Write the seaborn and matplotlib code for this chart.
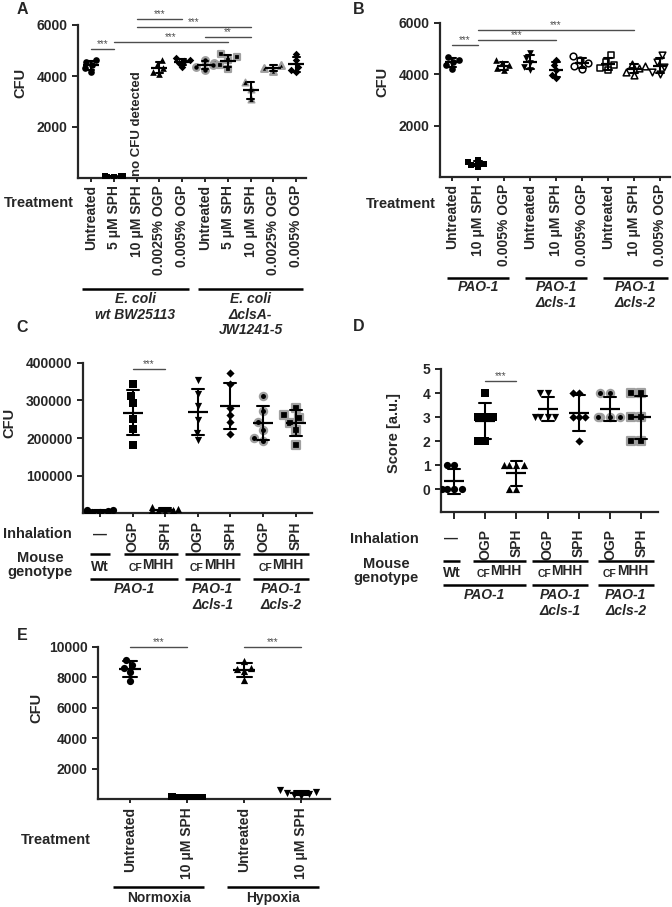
import warnings
import pandas as pd
import seaborn as sns
import matplotlib
matplotlib.use("Agg")
from matplotlib import pyplot as plt
from matplotlib.transforms import blended_transform_factory

warnings.filterwarnings("ignore")

# ---------------- data ----------------
# A: E. coli wt / clsA mutant, CFU
a_labels = ["Untreated", "5 μM SPH", "10 μM SPH", "0.0025% OGP", "0.005% OGP"] * 2
a_values = [
    [4630, 4560, 4430, 4300, 4170],
    [90, 70, 60, 40, 30],
    [],
    [4630, 4430, 4300, 4170, 4080],
    [4700, 4620, 4580, 4520, 4350],
    [4630, 4510, 4430, 4370, 4240],
    [4860, 4750, 4630, 4430, 4270],
    [3750, 3500, 3080],
    [4430, 4300, 4210],
    [4860, 4630, 4370, 4240, 4170],
]
a_groups = ["E. coli\nwt BW25113", "E. coli\nΔclsA-\nJW1241-5"]

# B: PAO-1 strains, CFU
b_labels = ["Untreated", "10 μM SPH", "0.005% OGP"] * 3
b_values = [
    [4670, 4565, 4490, 4370, 4215],
    [646, 580, 515, 450, 385],
    [4540, 4436, 4345, 4240, 4150],
    [4850, 4630, 4436, 4305, 4150],
    [4565, 4370, 4176, 3980, 3850],
    [4695, 4565, 4436, 4330, 4215],
    [4760, 4500, 4370, 4240, 4150],
    [4410, 4330, 4240, 4110, 3980],
    [4760, 4500, 4305, 4110, 4020],
]
b_groups = ["PAO-1", "PAO-1\nΔcls-1", "PAO-1\nΔcls-2"]

# C: mouse lungs, CFU
c_labels = ["—", "OGP", "SPH", "OGP", "SPH", "OGP", "SPH"]
c_values = [
    [9000, 7000, 6000, 5000, 4000, 3000],
    [343000, 312000, 293000, 251000, 224000, 181000],
    [15000, 10000, 8000, 7000, 5000, 4000],
    [355000, 316000, 286000, 248000, 214000, 195000],
    [372000, 343000, 281000, 261000, 242000, 211000],
    [312000, 272000, 242000, 221000, 201000, 192000],
    [281000, 262000, 252000, 241000, 221000, 181000],
]

# D: mouse lungs, score
d_labels = c_labels
d_values = [
    [1, 1, 0, 0, 0, 0],
    [4, 3, 3, 3, 2, 2],
    [1, 1, 1, 1, 0, 0],
    [4, 4, 3, 3, 3, 3],
    [4, 4, 3, 3, 3, 2],
    [4, 4, 3, 3, 3, 3],
    [4, 4, 3, 3, 2, 2],
]
genotypes = ["Wt", "CF", "CF", "CF"]
strains = ["PAO-1", "PAO-1\nΔcls-1", "PAO-1\nΔcls-2"]

# E: normoxia / hypoxia, CFU
e_labels = ["Untreated", "10 μM SPH", "Untreated", "10 μM SPH"]
e_values = [
    [8815, 9145, 8620, 8355, 7760],
    [120, 90, 70, 60, 40],
    [8650, 9100, 8550, 8450, 7800],
    [600, 450, 400, 350, 250, 200],
]
e_groups = ["Normoxia", "Hypoxia"]

# ---------------- style ----------------
sns.set_style("ticks")
plt.rcParams["font.family"] = ["Liberation Sans", "DejaVu Sans"]
plt.rcParams["font.weight"] = "bold"
plt.rcParams["axes.labelweight"] = "bold"
plt.rcParams["font.size"] = 10
plt.rcParams["axes.linewidth"] = 1.6
plt.rcParams["xtick.major.width"] = 1.4
plt.rcParams["ytick.major.width"] = 1.4
plt.rcParams["xtick.major.size"] = 3
plt.rcParams["ytick.major.size"] = 4

HALO = "#a0a0a0"
K = "black"
a_styles = [("o", K, K, 0), ("s", K, K, 0), ("s", K, K, 0), ("^", K, K, 0), ("D", K, K, 0),
            ("o", K, HALO, 1.6), ("s", K, HALO, 1.6), ("^", K, HALO, 1.0), ("^", K, HALO, 1.6), ("D", K, K, 0)]
b_styles = [("o", K, K, 0), ("s", K, K, 0), ("^", K, K, 0), ("v", K, K, 0), ("D", K, K, 0),
            ("o", "white", K, 1.1), ("s", "white", K, 1.1), ("^", "white", K, 1.1), ("v", "white", K, 1.1)]
cd_styles = [("o", K, K, 0), ("s", K, K, 0), ("^", K, K, 0), ("v", K, K, 0), ("D", K, K, 0),
             ("o", K, HALO, 1.6), ("s", K, HALO, 1.6)]
e_styles = [("o", K, K, 0), ("s", K, K, 0), ("^", K, K, 0), ("v", K, K, 0)]

W, H = 672, 907
fig = plt.figure(figsize=(W / 100, H / 100), dpi=100)


def add_ax(l, t, r, b):
    return fig.add_axes([l / W, 1 - b / H, (r - l) / W, (b - t) / H])


def fy(y):
    return 1 - y / H


def ftext(x, y, s, **kw):
    fig.text(x / W, fy(y), s, ha=kw.pop("ha", "center"), va=kw.pop("va", "center"), **kw)


def trans(ax):
    return blended_transform_factory(ax.transData, fig.transFigure)


def under_line(ax, x0, x1, y, lw=1.8):
    ax.plot([x0, x1], [fy(y), fy(y)], transform=trans(ax), color="black", lw=lw,
            clip_on=False, solid_capstyle="butt")


def under_text(ax, x, y, s, **kw):
    ax.text(x, fy(y), s, transform=trans(ax), ha="center", va=kw.pop("va", "top"),
            clip_on=False, **kw)


def sig(ax, x0, x1, y, s="***"):
    ax.plot([x0, x1], [y, y], color="#4d4d4d", lw=1, clip_on=False)
    ax.text((x0 + x1) / 2, y, s, ha="center", va="bottom", fontsize=7,
            color="#4d4d4d", fontweight="normal", clip_on=False)


def cf_mhh(ax, xc, y):
    ax.annotate("CF", xy=(xc, fy(y)), xycoords=trans(ax), xytext=(-6.3, 0),
                textcoords="offset points", ha="right", va="baseline", fontsize=7.5)
    ax.annotate("MHH", xy=(xc, fy(y)), xycoords=trans(ax), xytext=(-6.3, 1.5),
                textcoords="offset points", ha="left", va="baseline", fontsize=10)


def draw_panel(ax, values, styles, size, mean_w, capsize):
    rows = [(f"c{i}", v) for i, vals in enumerate(values) for v in vals]
    df = pd.DataFrame(rows, columns=["cat", "val"])
    order = [f"c{i}" for i in range(len(values))]
    for i, (m, fc, ec, lw) in enumerate(styles):
        sub = df[df["cat"] == order[i]]
        if sub.empty:
            continue
        s = size * 0.8 if m == "D" else size
        sns.swarmplot(data=sub, x="cat", y="val", order=order, marker=m, color=fc,
                      edgecolor=ec, linewidth=lw, size=s, ax=ax, zorder=3)
    sns.pointplot(data=df, x="cat", y="val", order=order, errorbar="sd", capsize=capsize,
                  color="black", linestyle="none", marker="_", markersize=mean_w,
                  markeredgewidth=1.6, err_kws={"linewidth": 1.5}, ax=ax, zorder=4)
    sns.despine(ax=ax)
    ax.set_xlabel("")
    ax.tick_params(axis="both", labelsize=10)


# ---------------- A ----------------
axA = add_ax(78, 25, 306, 178)
draw_panel(axA, a_values, a_styles, 4.8, 11, 0.3)
axA.set_xlim(-0.57, 9.43)
axA.set_ylim(0, 6000)
axA.set_yticks([2000, 4000, 6000])
axA.set_xticks(range(10))
axA.set_xticklabels(a_labels, rotation=90, fontsize=10, fontweight="bold")
axA.tick_params(axis="x", pad=2)
axA.set_ylabel("CFU", fontsize=10.5)
axA.yaxis.set_label_coords((27 - 78) / 228, 0.62)
axA.text(2, 90, "no CFU detected", rotation=90, ha="center", va="bottom", fontsize=9.5)
sig(axA, 0, 1, 5060)
sig(axA, 1, 6, 5330)
sig(axA, 2, 4, 6235)
sig(axA, 2, 7, 5920)
sig(axA, 5, 7, 5530, "**")
ftext(74, 203, "Treatment", ha="right", fontsize=10.5)
under_line(axA, -0.4, 4.3, 289)
under_line(axA, 4.7, 9.3, 289)
under_text(axA, 1.95, 292, a_groups[0], style="italic", fontsize=10, linespacing=1.2)
under_text(axA, 7.0, 292, a_groups[1], style="italic", fontsize=10, linespacing=1.15)
ftext(22, 10, "A", fontsize=11.5)

# ---------------- B ----------------
axB = add_ax(440, 23, 670, 177)
draw_panel(axB, b_values, b_styles, 4.8, 10, 0.3)
axB.set_xlim(-0.46, 8.38)
axB.set_ylim(0, 6000)
axB.set_yticks([2000, 4000, 6000])
axB.set_xticks(range(9))
axB.set_xticklabels(b_labels, rotation=90, fontsize=10, fontweight="bold")
axB.tick_params(axis="x", pad=2)
axB.set_ylabel("CFU", fontsize=10.5)
axB.yaxis.set_label_coords((389 - 440) / 230, 0.62)
sig(axB, 0, 1, 5155)
sig(axB, 1, 4, 5350)
sig(axB, 1, 7, 5740)
ftext(436, 204, "Treatment", ha="right", fontsize=10.5)
for k, (x0, x1) in enumerate([(-0.2, 2.2), (2.8, 5.2), (5.8, 8.3)]):
    under_line(axB, x0, x1, 278)
    under_text(axB, (x0 + x1) / 2, 280, b_groups[k], style="italic", fontsize=10,
               linespacing=1.15)
ftext(359, 10, "B", fontsize=11.5)

# ---------------- C ----------------
axC = add_ax(83, 363, 312, 513)
draw_panel(axC, c_values, cd_styles, 5.2, 15, 0.37)
axC.set_xlim(-0.52, 6.5)
axC.set_ylim(0, 400000)
axC.set_yticks([100000, 200000, 300000, 400000])
axC.set_xticks(range(7))
axC.set_xticklabels([""] + c_labels[1:], rotation=90, fontsize=10, fontweight="bold")
axC.tick_params(axis="x", pad=3)
axC.set_ylabel("CFU", fontsize=10.5)
axC.yaxis.set_label_coords((16 - 83) / 229, 0.6)
sig(axC, 1, 2, 384000)
under_text(axC, 0, 535, c_labels[0], va="center", fontsize=10)
ftext(37, 534, "Inhalation", fontsize=10.5)
ftext(40, 565, "Mouse\ngenotype", fontsize=10.5, linespacing=1.05)
for k, (x0, x1) in enumerate([(-0.3, 0.3), (0.75, 2.4), (2.6, 4.3), (4.7, 6.4)]):
    under_line(axC, x0, x1, 554)
    if genotypes[k] == "Wt":
        under_text(axC, (x0 + x1) / 2, 571, "Wt", va="baseline", fontsize=10)
    else:
        cf_mhh(axC, (x0 + x1) / 2, 571)
for k, (x0, x1) in enumerate([(-0.3, 2.4), (2.6, 4.3), (4.7, 6.4)]):
    under_line(axC, x0, x1, 579)
    under_text(axC, (x0 + x1) / 2, 582, strains[k], style="italic", fontsize=10,
               linespacing=1.15)
ftext(22, 327, "C", fontsize=11.5)

# ---------------- D ----------------
axD = add_ax(441, 369, 658, 512)
draw_panel(axD, d_values, cd_styles, 5.2, 14.5, 0.38)
axD.set_xlim(-0.42, 6.54)
axD.set_ylim(-0.95, 5)
axD.set_yticks(range(6))
axD.set_xticks(range(7))
axD.set_xticklabels([""] + d_labels[1:], rotation=90, fontsize=10, fontweight="bold")
axD.tick_params(axis="x", length=5, pad=7)
axD.set_ylabel("Score [a.u.]", fontsize=10.5)
axD.yaxis.set_label_coords((401 - 441) / 217, 0.55)
sig(axD, 1, 2, 4.5)
under_text(axD, -0.1, 539, d_labels[0], va="center", fontsize=10)
ftext(384, 539, "Inhalation", fontsize=10.5)
ftext(386, 571, "Mouse\ngenotype", fontsize=10.5, linespacing=1.05)
for k, (x0, x1) in enumerate([(-0.35, 0.2), (0.6, 2.3), (2.5, 4.3), (4.6, 6.4)]):
    under_line(axD, x0, x1, 561)
    if genotypes[k] == "Wt":
        under_text(axD, (x0 + x1) / 2, 577, "Wt", va="baseline", fontsize=10)
    else:
        cf_mhh(axD, (x0 + x1) / 2, 577)
for k, (x0, x1) in enumerate([(-0.35, 2.3), (2.5, 4.3), (4.6, 6.4)]):
    under_line(axD, x0, x1, 585)
    under_text(axD, (x0 + x1) / 2, 588, strains[k], style="italic", fontsize=10,
               linespacing=1.15)
ftext(359, 326, "D", fontsize=11.5)

# ---------------- E ----------------
axE = add_ax(98, 647, 330, 799)
draw_panel(axE, e_values, e_styles, 5.2, 16.5, 0.26)
axE.set_xlim(-0.56, 3.5)
axE.set_ylim(0, 10000)
axE.set_yticks([2000, 4000, 6000, 8000, 10000])
axE.set_xticks(range(4))
axE.set_xticklabels(e_labels, rotation=90, fontsize=10, fontweight="bold")
axE.tick_params(axis="x", pad=3)
axE.set_ylabel("CFU", fontsize=10.5)
axE.yaxis.set_label_coords((43 - 98) / 232, 0.6)
sig(axE, 0, 1, 10000)
sig(axE, 2, 3, 10000)
ftext(56, 840, "Treatment", fontsize=10.5)
for k, (x0, x1) in enumerate([(-0.3, 1.3), (1.7, 3.3)]):
    under_line(axE, x0, x1, 887)
    under_text(axE, (x0 + x1) / 2, 898, e_groups[k], va="center", fontsize=10)
ftext(22, 635, "E", fontsize=11.5)

fig.savefig("out.png", dpi=100)
